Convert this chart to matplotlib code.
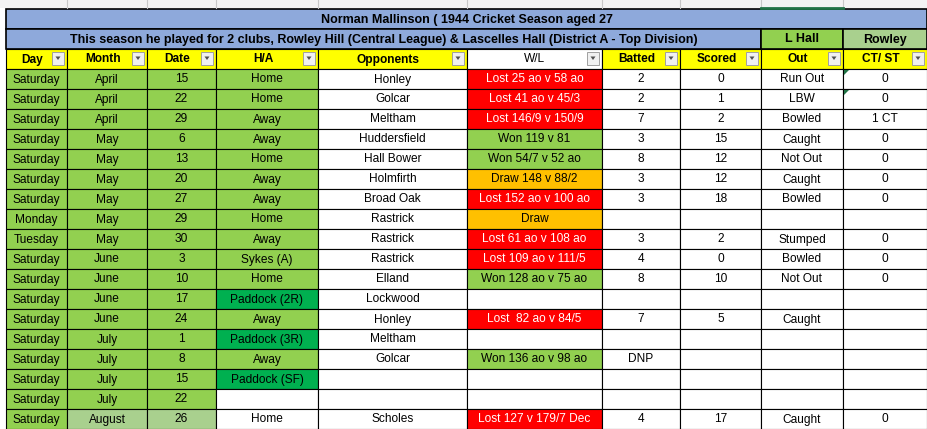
import matplotlib
matplotlib.use("Agg")
import matplotlib.pyplot as plt
from matplotlib.patches import Rectangle, Polygon

title = "Norman Mallinson ( 1944 Cricket Season aged 27"
subtitle = "This season he played for 2 clubs, Rowley Hill (Central League) & Lascelles Hall (District A - Top Division)"
headers = ["Day", "Month", "Date", "H/A", "Opponents", "W/L", "Batted", "Scored", "Out", "CT/ ST"]
days = ["Saturday"]*7 + ["Monday", "Tuesday"] + ["Saturday"]*9
months = ["April"]*3 + ["May"]*6 + ["June"]*4 + ["July"]*4 + ["August"]
dates = ["15", "22", "29", "6", "13", "20", "27", "29", "30", "3", "10", "17", "24", "1", "8", "15", "22", "26"]
ha = ["Home", "Home", "Away", "Away", "Home", "Away", "Away", "Home", "Away", "Sykes (A)", "Home",
      "Paddock (2R)", "Away", "Paddock (3R)", "Away", "Paddock (SF)", "", "Home"]
opponents = ["Honley", "Golcar", "Meltham", "Huddersfield", "Hall Bower", "Holmfirth", "Broad Oak", "Rastrick",
             "Rastrick", "Rastrick", "Elland", "Lockwood", "Honley", "Meltham", "Golcar", "", "", "Scholes"]
results = ["Lost 25 ao v 58 ao", "Lost 41 ao v 45/3", "Lost 146/9 v 150/9", "Won 119 v 81", "Won 54/7 v 52 ao",
           "Draw 148 v 88/2", "Lost 152 ao v 100 ao", "Draw", "Lost 61 ao v 108 ao", "Lost 109 ao v 111/5",
           "Won 128 ao v 75 ao", "", "Lost  82 ao v 84/5", "", "Won 136 ao v 98 ao", "", "", "Lost 127 v 179/7 Dec"]
batted = ["2", "2", "7", "3", "8", "3", "3", "", "3", "4", "8", "", "7", "", "DNP", "", "", "4"]
scored = ["0", "1", "2", "15", "12", "12", "18", "", "2", "0", "10", "", "5", "", "", "", "", "17"]
outs = ["Run Out", "LBW", "Bowled", "Caught", "Not Out", "Caught", "Bowled", "", "Stumped", "Bowled", "Not Out",
        "", "Caught", "", "", "", "", "Caught"]
ctst = ["0", "0", "1 CT", "0", "0", "0", "0", "", "0", "0", "0", "", "", "", "", "", "", "0"]

GREEN = "#92D050"; LGREEN = "#A9D08E"; DGREEN = "#00B050"; RED = "#FF0000"; ORANGE = "#FFC000"
BLUE = "#8EA9DB"; YELLOW = "#FFFF00"

xs = [6, 67, 147, 216, 318, 467, 602, 680, 761, 843, 927]
FONT = ["Liberation Sans", "DejaVu Sans"]
FS = 8.6

fig = plt.figure(figsize=(9.27, 4.29), dpi=100)
ax = fig.add_axes([0, 0, 1, 1])
ax.set_xlim(0, 927); ax.set_ylim(429, 0); ax.axis("off")

def cell(x0, x1, y0, y1, fc, text="", color="black", bold=False, lw=0.8, fs=FS):
    ax.add_patch(Rectangle((x0, y0), x1 - x0, y1 - y0, fc=fc, ec="black", lw=lw))
    if text:
        ax.text((x0 + x1) / 2, (y0 + y1) / 2 + 0.5, text, ha="center", va="center", fontsize=fs,
                color=color, fontweight="bold" if bold else "normal", family=FONT)

# spreadsheet column header strip
ax.add_patch(Rectangle((0, 0), 927, 8, fc="#F3F3F3", ec="none"))
for x in xs[1:-1]:
    ax.plot([x, x], [0, 8], color="#C8C8C8", lw=0.8)
ax.plot([761, 843], [7.5, 7.5], color="#217346", lw=2)
ax.add_patch(Rectangle((0, 8), 6, 421, fc="white", ec="none"))

cell(xs[0], xs[-1], 9, 29, BLUE, title, bold=True, lw=1.2, fs=9)
cell(xs[0], xs[8], 29, 49, BLUE, subtitle, bold=True, lw=1.2, fs=9)
cell(xs[8], xs[9], 29, 49, GREEN, "L Hall", bold=True, lw=1.2, fs=9)
cell(xs[9], xs[10], 29, 49, LGREEN, "Rowley", bold=True, lw=1.2, fs=9)

for i, h in enumerate(headers):
    fc = "white" if h == "W/L" else YELLOW
    ax.add_patch(Rectangle((xs[i], 49), xs[i+1] - xs[i], 20, fc=fc, ec="black", lw=0.8))
    ax.text((xs[i] + xs[i+1]) / 2 - (4 if h != "W/L" else 0), 59.5, h, ha="center", va="center",
            fontsize=FS, fontweight="normal" if h == "W/L" else "bold", family=FONT)
    bx = xs[i+1] - 15
    ax.add_patch(Rectangle((bx, 52), 12, 13, fc="#F0F0F0", ec="#A0A0A0", lw=0.7))
    ax.add_patch(Polygon([(bx + 3.5, 56.5), (bx + 8.5, 56.5), (bx + 6, 60)], closed=True, fc="#505050", ec="none"))

for r in range(len(days)):
    y0 = 69 + r * 20; y1 = y0 + 20
    last = months[r] == "August"
    cell(xs[0], xs[1], y0, y1, GREEN, days[r])
    cell(xs[1], xs[2], y0, y1, LGREEN if last else GREEN, months[r])
    cell(xs[2], xs[3], y0, y1, LGREEN if last else GREEN, dates[r])
    hfc = DGREEN if ha[r].startswith("Paddock") else ("white" if (ha[r] == "" or last) else GREEN)
    cell(xs[3], xs[4], y0, y1, hfc, ha[r])
    cell(xs[4], xs[5], y0, y1, "white", opponents[r])
    res = results[r]
    if res.startswith("Lost"):
        cell(xs[5], xs[6], y0, y1, RED, res, color="white")
    elif res.startswith("Won"):
        cell(xs[5], xs[6], y0, y1, GREEN, res)
    elif res.startswith("Draw"):
        cell(xs[5], xs[6], y0, y1, ORANGE, res)
    else:
        cell(xs[5], xs[6], y0, y1, "white")
    cell(xs[6], xs[7], y0, y1, "white", batted[r])
    cell(xs[7], xs[8], y0, y1, "white", scored[r])
    cell(xs[8], xs[9], y0, y1, "white", outs[r])
    cell(xs[9], xs[10], y0, y1, "white", ctst[r])

for r in (0, 1):
    y0 = 69 + r * 20
    ax.add_patch(Polygon([(xs[9] + 1, y0 + 1), (xs[9] + 6, y0 + 1), (xs[9] + 1, y0 + 6)], fc="#217346", ec="none"))

fig.savefig("out.png", dpi=100)
